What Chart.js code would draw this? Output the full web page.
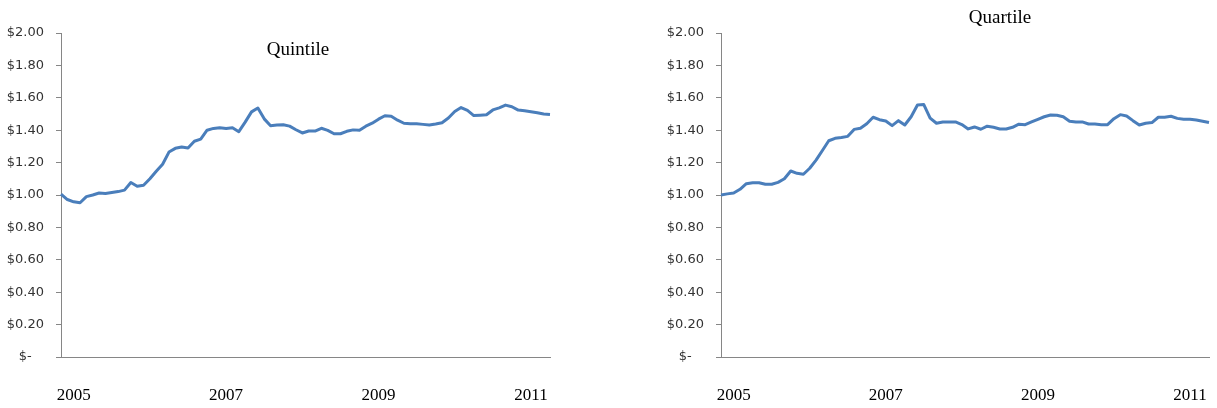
<!DOCTYPE html>
<html>
<head>
<meta charset="utf-8">
<script src="https://cdn.jsdelivr.net/npm/chart.js@4/dist/chart.umd.min.js"></script>
<style>
  body { margin: 0; background: #fff; }
  #wrap { position: relative; width: 1217px; height: 408px; overflow: hidden; }
  .panel { position: absolute; top: 0; }
  .panel canvas { display: block; }
  .title { position: absolute; font-family: "Liberation Serif", serif; font-size: 19px; color: #000;
           transform: translate(-50%, -50%); white-space: nowrap; line-height: 1; }
</style>
</head>
<body>
<div id="wrap">
  <div class="panel" style="left:0px; width:600px"><canvas id="chartQuintile" width="600" height="408"></canvas></div>
  <div class="panel" style="left:600px; width:617px"><canvas id="chartQuartile" width="617" height="408"></canvas></div>
  <div class="title" style="left:298px; top:48px">Quintile</div>
  <div class="title" style="left:1000px; top:16px">Quartile</div>
</div>
<script>
const months = [
  'Nov-04','Dec-04',
  'Jan-05','Feb-05','Mar-05','Apr-05','May-05','Jun-05','Jul-05','Aug-05','Sep-05','Oct-05','Nov-05','Dec-05',
  'Jan-06','Feb-06','Mar-06','Apr-06','May-06','Jun-06','Jul-06','Aug-06','Sep-06','Oct-06','Nov-06','Dec-06',
  'Jan-07','Feb-07','Mar-07','Apr-07','May-07','Jun-07','Jul-07','Aug-07','Sep-07','Oct-07','Nov-07','Dec-07',
  'Jan-08','Feb-08','Mar-08','Apr-08','May-08','Jun-08','Jul-08','Aug-08','Sep-08','Oct-08','Nov-08','Dec-08',
  'Jan-09','Feb-09','Mar-09','Apr-09','May-09','Jun-09','Jul-09','Aug-09','Sep-09','Oct-09','Nov-09','Dec-09',
  'Jan-10','Feb-10','Mar-10','Apr-10','May-10','Jun-10','Jul-10','Aug-10','Sep-10','Oct-10','Nov-10','Dec-10',
  'Jan-11','Feb-11','Mar-11','Apr-11'
];
const yearTicks = ['2005', '2007', '2009', '2011'];

const quintile = [
  1.005, 0.972, 0.958, 0.952, 0.990, 1.000, 1.012, 1.009, 1.015, 1.021,
  1.030, 1.077, 1.054, 1.060, 1.100, 1.147, 1.190, 1.265, 1.288, 1.296,
  1.290, 1.332, 1.345, 1.400, 1.411, 1.415, 1.411, 1.415, 1.391, 1.450,
  1.513, 1.537, 1.470, 1.428, 1.432, 1.434, 1.425, 1.403, 1.383, 1.395,
  1.395, 1.412, 1.399, 1.378, 1.378, 1.393, 1.402, 1.400, 1.425, 1.443,
  1.468, 1.489, 1.486, 1.462, 1.443, 1.440, 1.440, 1.436, 1.432, 1.438,
  1.446, 1.475, 1.515, 1.540, 1.522, 1.490, 1.493, 1.495, 1.525, 1.538,
  1.555, 1.545, 1.524, 1.520, 1.514, 1.508, 1.500, 1.497
];

const quartile = [
  1.000, 1.007, 1.012, 1.035, 1.070, 1.076, 1.076, 1.066, 1.066, 1.078,
  1.100, 1.148, 1.134, 1.128, 1.165, 1.215, 1.275, 1.335, 1.350, 1.355,
  1.362, 1.405, 1.412, 1.440, 1.480, 1.465, 1.457, 1.428, 1.459, 1.432,
  1.483, 1.556, 1.558, 1.475, 1.443, 1.450, 1.451, 1.451, 1.435, 1.408,
  1.420, 1.406, 1.425, 1.418, 1.407, 1.407, 1.418, 1.437, 1.434, 1.451,
  1.467, 1.483, 1.494, 1.492, 1.483, 1.455, 1.451, 1.451, 1.438, 1.438,
  1.434, 1.434, 1.471, 1.496, 1.488, 1.459, 1.432, 1.443, 1.447, 1.480,
  1.480, 1.486, 1.473, 1.467, 1.467, 1.463, 1.455, 1.447
];

const LINE_COLOR = '#4A7EBB';
const AXIS_COLOR = '#868686';

function makeChart(canvasId, values, padLeft, padRight) {
  return new Chart(document.getElementById(canvasId), {
    type: 'line',
    data: {
      labels: months,
      datasets: [{
        data: values,
        borderColor: LINE_COLOR,
        borderWidth: 3,
        borderJoinStyle: 'round',
        pointRadius: 0,
        tension: 0
      }]
    },
    options: {
      responsive: false,
      animation: false,
      layout: {
        padding: { left: padLeft, right: padRight, top: 33, bottom: 0 }
      },
      plugins: {
        legend: { display: false },
        tooltip: { enabled: false }
      },
      scales: {
        x: {
          offset: false,
          // invisible tick marks push the year labels down without widening the side padding
          grid: { display: true, drawOnChartArea: false, drawTicks: true, tickLength: 22, color: 'rgba(0,0,0,0)' },
          border: { display: true, color: AXIS_COLOR, width: 1 },
          ticks: {
            autoSkip: false,
            maxRotation: 0,
            padding: 6,
            color: '#000',
            font: { family: 'Liberation Serif', size: 17 },
            callback: function(value, index) {
              const lab = months[index];
              if (lab.startsWith('Jan')) {
                const yr = '20' + lab.slice(4);
                if (yearTicks.includes(yr)) return yr;
              }
              return '';
            }
          },
          afterFit: function(scale) { scale.height = 51; }
        },
        y: {
          min: 0,
          max: 2,
          grid: { drawOnChartArea: false, drawTicks: true, tickLength: 5, color: AXIS_COLOR },
          border: { display: true, color: AXIS_COLOR, width: 1 },
          ticks: {
            stepSize: 0.2,
            padding: 12,
            color: '#333333',
            font: { family: 'DejaVu Sans', size: 13 },
            callback: function(value) {
              if (Math.abs(value) < 1e-9) return '$-   ';
              return '$' + value.toFixed(2);
            }
          },
          afterFit: function(scale) { scale.width = 61; }
        }
      }
    }
  });
}

makeChart('chartQuintile', quintile, 0, 50);
makeChart('chartQuartile', quartile, 60, 8);
</script>
</body>
</html>
